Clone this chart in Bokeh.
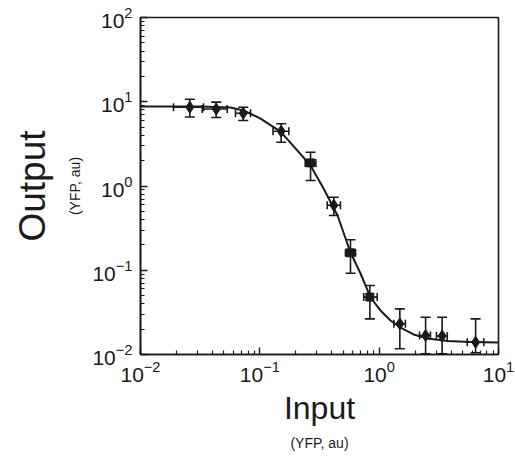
from bokeh.plotting import figure
from bokeh.models import ColumnDataSource, Whisker, TeeHead, Title, FixedTicker
from bokeh.embed import file_html
from bokeh.resources import INLINE

# ---- data ----
input_x = [0.0259, 0.0431, 0.0726, 0.151, 0.266, 0.417, 0.575, 0.836, 1.49, 2.45, 3.37, 6.43]
output_y = [8.6, 8.2, 7.3, 4.47, 1.88, 0.59, 0.161, 0.048, 0.0231, 0.0168, 0.0166, 0.0140]
out_low = [6.6, 6.5, 6.0, 3.31, 1.16, 0.447, 0.0923, 0.0265, 0.0117, 0.0102, 0.0102, 0.0105]
out_high = [10.7, 9.9, 8.6, 5.47, 2.52, 0.736, 0.23, 0.0659, 0.0348, 0.0277, 0.0277, 0.0265]
in_low = [0.0189, 0.0329, 0.0625, 0.129, 0.240, 0.367, 0.522, 0.743, 1.33, 2.18, 3.02, 5.47]
in_high = [0.0337, 0.0533, 0.0836, 0.175, 0.295, 0.474, 0.634, 0.963, 1.66, 2.69, 3.72, 7.53]

fit_x = [0.01, 0.0318, 0.0568, 0.0730, 0.1014, 0.149, 0.199, 0.266, 0.342, 0.448, 0.575,
         0.698, 0.846, 1.026, 1.245, 1.510, 1.941, 2.54, 3.74, 5.82, 10.0]
fit_y = [8.79, 8.79, 8.55, 7.88, 6.32, 4.43, 2.79, 1.75, 0.933, 0.446, 0.1625,
         0.0915, 0.0475, 0.0333, 0.0253, 0.0209, 0.0173, 0.0155, 0.01445, 0.01406, 0.01387]

marker_shapes = ["diamond", "diamond", "diamond", "diamond", "square", "diamond",
                 "square", "square", "diamond", "diamond", "diamond", "diamond"]
marker_sizes = [12, 12, 12, 12, 8, 12, 8, 8, 12, 12, 12, 12]

x_major = [0.01, 0.1, 1, 10]
y_major = [0.01, 0.1, 1, 10, 100]

FONT = "Liberation Sans"
INK = "#1a1a1a"

p = figure(width=515, height=465, x_axis_type="log", y_axis_type="log",
           x_range=(0.01, 10), y_range=(0.01, 100),
           output_backend="svg", toolbar_location=None,
           min_border_left=140, min_border_right=17, min_border_top=17, min_border_bottom=111)

p.xgrid.visible = False
p.ygrid.visible = False
p.outline_line_color = INK
p.outline_line_width = 1.6
p.background_fill_color = "white"
p.border_fill_color = "white"

def minor_list(majors):
    out = []
    for m in majors[:-1]:
        out += [m * k for k in range(2, 10)]
    return out

p.xaxis.ticker = FixedTicker(ticks=x_major, minor_ticks=minor_list(x_major))
p.yaxis.ticker = FixedTicker(ticks=y_major, minor_ticks=minor_list(y_major))

for ax in (p.xaxis, p.yaxis):
    ax.axis_line_color = INK
    ax.axis_line_width = 1.6
    ax.major_tick_in = 7
    ax.major_tick_out = 0
    ax.minor_tick_in = 4
    ax.minor_tick_out = 0
    ax.major_tick_line_color = INK
    ax.minor_tick_line_color = INK
    ax.major_tick_line_width = 1.4
    ax.minor_tick_line_width = 1.2
    ax.major_label_text_font = FONT
    ax.major_label_text_font_size = "21px"
    ax.major_label_text_color = INK
p.yaxis.major_label_standoff = 8
p.xaxis.major_label_standoff = 6

# fitted curve
p.line(fit_x, fit_y, line_color=INK, line_width=2)

src = ColumnDataSource(dict(x=input_x, y=output_y, ylo=out_low, yhi=out_high,
                            xlo=in_low, xhi=in_high, m=marker_shapes, s=marker_sizes))

p.add_layout(Whisker(source=src, base="x", lower="ylo", upper="yhi", dimension="height",
                     line_color=INK, line_width=1.6,
                     upper_head=TeeHead(size=10, line_color=INK, line_width=1.6),
                     lower_head=TeeHead(size=10, line_color=INK, line_width=1.6)))
p.add_layout(Whisker(source=src, base="y", lower="xlo", upper="xhi", dimension="width",
                     line_color=INK, line_width=1.6,
                     upper_head=TeeHead(size=8, line_color=INK, line_width=1.6),
                     lower_head=TeeHead(size=8, line_color=INK, line_width=1.6)))

p.scatter("x", "y", source=src, marker="m", size="s", fill_color=INK, line_color=INK)

# axis titles (inner first, outer after)
p.add_layout(Title(text="(YFP, au)", align="center", offset=22, standoff=14,
                   text_font=FONT, text_font_size="14px", text_font_style="normal",
                   text_color=INK), "left")
p.add_layout(Title(text="Output", align="center", standoff=10,
                   text_font=FONT, text_font_size="37px", text_font_style="normal",
                   text_color=INK), "left")
p.add_layout(Title(text="Input", align="center", offset=4, standoff=7,
                   text_font=FONT, text_font_size="32px", text_font_style="normal",
                   text_color=INK), "below")
p.add_layout(Title(text="(YFP, au)", align="center", offset=6, standoff=6,
                   text_font=FONT, text_font_size="14px", text_font_style="normal",
                   text_color=INK), "below")

open("out.html", "w").write(file_html(p, INLINE))
